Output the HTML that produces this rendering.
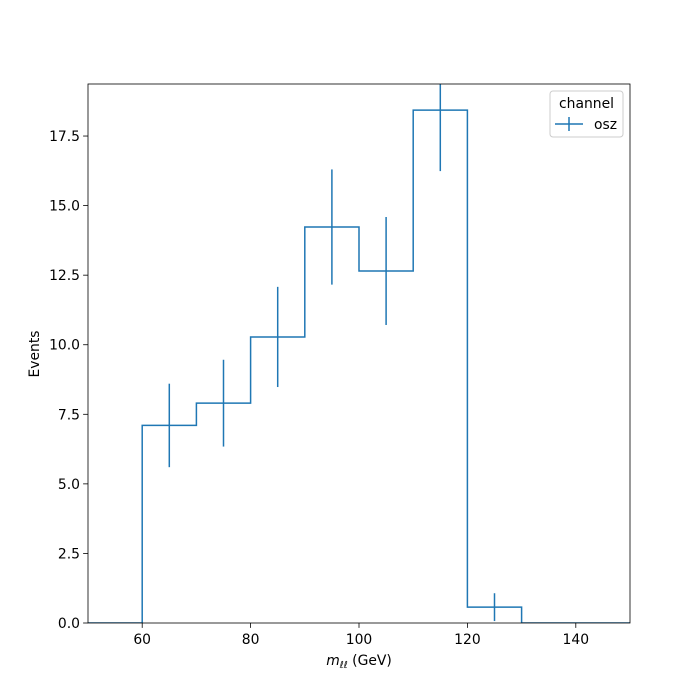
<!DOCTYPE html>
<html><head><meta charset="utf-8"><style>
html,body{margin:0;padding:0;background:#fff;overflow:hidden;}
svg{display:block;}
svg text{font-family:"DejaVu Sans","Liberation Sans",sans-serif;fill:#000;}
</style></head><body>
<svg id="chart" width="700" height="700"></svg>
<script>
const binEdges=[50,60,70,80,90,100,110,120,130,140,150];
const counts=[0,7.1,7.9,10.28,14.23,12.65,18.43,0.57,0,0];
const errors=[0,1.5,1.56,1.8,2.07,1.94,2.19,0.5,0,0];
const xTicks=[60,80,100,120,140];
const yTicks=[0,2.5,5,7.5,10,12.5,15,17.5];
const yTickLabels=["0.0","2.5","5.0","7.5","10.0","12.5","15.0","17.5"];
const L=88,R=630,T=84,B=623,xMin=50,xMax=150,yMax=19.37;
const FS=13.9;
const sx=v=>L+(v-xMin)/(xMax-xMin)*(R-L);
const sy=v=>B-v/yMax*(B-T);
const svg=document.getElementById('chart');
const NS='http://www.w3.org/2000/svg';
function mk(t,a,p){const e=document.createElementNS(NS,t);for(const k in a)e.setAttribute(k,a[k]);(p||svg).appendChild(e);return e;}
const defs=mk('defs',{});const cp=mk('clipPath',{id:'cp'},defs);mk('rect',{x:L,y:T,width:R-L,height:B-T},cp);
const g=mk('g',{'clip-path':'url(#cp)'});


let d='M'+sx(binEdges[0])+','+sy(counts[0]);
for(let i=0;i<counts.length;i++){d+=' L'+sx(binEdges[i])+','+sy(counts[i])+' L'+sx(binEdges[i+1])+','+sy(counts[i]);}
const step=mk('path',{d:d,fill:'none',stroke:'#1f77b4','stroke-width':1.5},g);


for(let i=0;i<counts.length;i++){if(errors[i]<=0)continue;const c=(binEdges[i]+binEdges[i+1])/2;
const e=mk('line',{x1:sx(c),x2:sx(c),y1:sy(counts[i]-errors[i]),y2:sy(counts[i]+errors[i]),stroke:'#1f77b4','stroke-width':1.5},g);

}
const fr=mk('rect',{x:L,y:T,width:R-L,height:B-T,fill:'none',stroke:'#000','stroke-width':0.8});


xTicks.forEach(v=>{mk('line',{x1:sx(v),x2:sx(v),y1:B,y2:B+4.9,stroke:'#000','stroke-width':0.8});
const t=mk('text',{x:sx(v),y:B+21,'text-anchor':'middle','font-size':FS});t.textContent=v;

});
yTicks.forEach((v,i)=>{mk('line',{x1:L-4.9,x2:L,y1:sy(v),y2:sy(v),stroke:'#000','stroke-width':0.8});
const t=mk('text',{x:L-8,y:sy(v)+5,'text-anchor':'end','font-size':FS});t.textContent=yTickLabels[i];

});
const xt=mk('text',{x:359,y:665,'text-anchor':'middle','font-size':FS});
xt.innerHTML='<tspan font-style="italic">m</tspan><tspan font-style="italic" font-size="9.7" dy="3">ℓℓ</tspan><tspan dy="-3"> (GeV)</tspan>';


const yt=mk('text',{x:0,y:0,'text-anchor':'middle','font-size':FS,transform:'translate(39,354) rotate(-90)'});yt.textContent='Events';


const lg=mk('g',{});


mk('rect',{x:550,y:91,width:73,height:46,rx:3,fill:'#fff',stroke:'#ccc','stroke-width':1},lg);
const lt=mk('text',{x:586.5,y:108,'text-anchor':'middle','font-size':FS},lg);lt.textContent='channel';
mk('line',{x1:555,x2:583,y1:124,y2:124,stroke:'#1f77b4','stroke-width':1.5},lg);
mk('line',{x1:569,x2:569,y1:117,y2:131,stroke:'#1f77b4','stroke-width':1.5},lg);
const le=mk('text',{x:594,y:129,'font-size':FS},lg);le.textContent='osz';


</script>
</body></html>
